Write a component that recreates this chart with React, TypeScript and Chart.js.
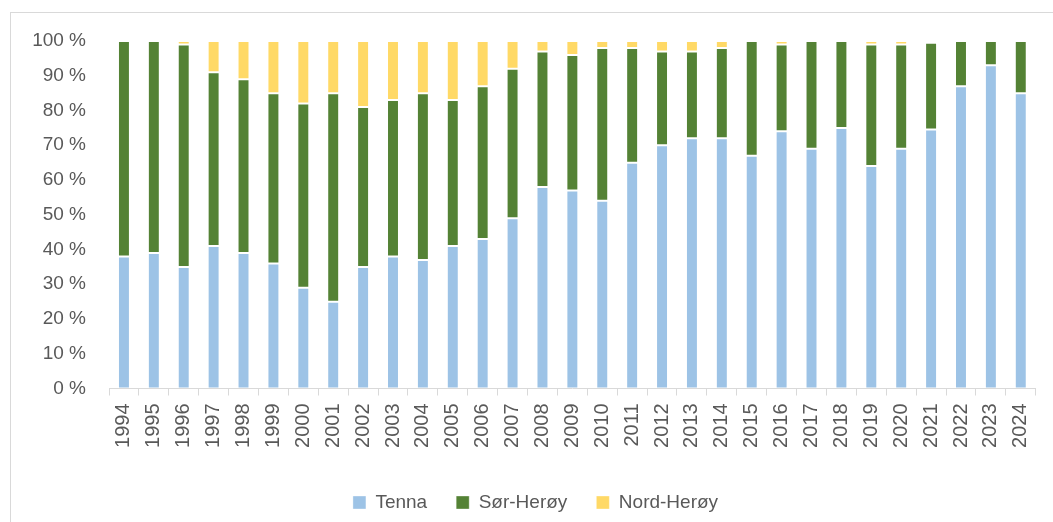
import React, { useEffect, useRef } from "react";
import { Chart, registerables } from "chart.js";

Chart.register(...registerables);

const years = [
  "1994", "1995", "1996", "1997", "1998", "1999", "2000", "2001", "2002", "2003",
  "2004", "2005", "2006", "2007", "2008", "2009", "2010", "2011", "2012", "2013",
  "2014", "2015", "2016", "2017", "2018", "2019", "2020", "2021", "2022", "2023", "2024",
];

const tenna = [
  38, 39, 35, 41, 39, 36, 29, 25, 35, 38,
  37, 41, 43, 49, 58, 57, 54, 65, 70, 72,
  72, 67, 74, 69, 75, 64, 69, 74.5, 87, 93, 85,
];

const sorHeroy = [
  62, 61, 64, 50, 50, 49, 53, 60, 46, 45,
  48, 42, 44, 43, 39, 39, 44, 33, 27, 25,
  26, 33, 25, 31, 25, 35, 30, 25, 13, 7, 15,
];

const nordHeroy = [
  0, 0, 1, 9, 11, 15, 18, 15, 19, 17,
  15, 17, 13, 8, 3, 4, 2, 2, 3, 3,
  2, 0, 1, 0, 0, 1, 1, 0.5, 0, 0, 0,
];

const seriesNames = ["Tenna", "Sør-Herøy", "Nord-Herøy"];
const seriesColors = ["#9DC3E6", "#548235", "#FFD966"];
const yTicks = [0, 10, 20, 30, 40, 50, 60, 70, 80, 90, 100];

export default function App() {
  const ref = useRef<HTMLCanvasElement | null>(null);

  useEffect(() => {
    if (!ref.current) return;
    const family = "'Liberation Sans', Arial, sans-serif";
    const font = { family, size: 19 };
    const values = [tenna, sorHeroy, nordHeroy];
    const chart = new Chart(ref.current, {
      type: "bar",
      data: {
        labels: years,
        datasets: values.map((v, i) => ({
          label: seriesNames[i],
          data: v,
          backgroundColor: seriesColors[i],
          borderColor: "rgba(255,255,255,0.35)",
          borderWidth: 1,
          borderSkipped: false,
          categoryPercentage: 1,
          barPercentage: 0.4,
        })),
      },
      options: {
        animation: false,
        responsive: false,
        maintainAspectRatio: false,
        layout: { padding: { left: 32, right: 14, top: 41, bottom: 0 } },
        plugins: {
          tooltip: { enabled: false },
          legend: {
            position: "bottom",
            labels: {
              font,
              color: "#595959",
              boxWidth: 13,
              boxHeight: 13,
              padding: 29,
            },
          },
        },
        scales: {
          x: {
            stacked: true,
            offset: true,
            grid: {
              display: true,
              offset: true,
              drawOnChartArea: false,
              drawTicks: true,
              tickLength: 7,
              color: "#D9D9D9",
            },
            border: { display: true, color: "#D9D9D9", width: 1 },
            ticks: {
              font: { family, size: 20 },
              color: "#595959",
              autoSkip: false,
              minRotation: 90,
              maxRotation: 90,
              padding: 8,
            },
            afterFit: (scale: any) => {
              scale.height = 75.5;
            },
          },
          y: {
            stacked: true,
            min: 0,
            max: 100,
            afterBuildTicks: (scale: any) => {
              scale.ticks = yTicks.map((v) => ({ value: v }));
            },
            grid: { display: false, drawTicks: false },
            border: { display: false },
            ticks: {
              font,
              color: "#595959",
              padding: 23,
              callback: (v: any) => v + " %",
            },
            afterFit: (scale: any) => {
              scale.width = 77;
            },
          },
        },
      },
    });
    return () => chart.destroy();
  }, []);

  return (
    <div style={{ position: "fixed", left: 0, top: 0, width: 1053, height: 522, background: "#fff", overflow: "hidden" }}>
      <div
        style={{
          position: "absolute",
          left: 10,
          top: 12,
          width: 1100,
          height: 600,
          borderLeft: "1px solid #D9D9D9",
          borderTop: "1px solid #D9D9D9",
        }}
      />
      <canvas ref={ref} width={1053} height={522} style={{ position: "absolute", left: 0, top: 0, width: 1053, height: 522 }} />
    </div>
  );
}
